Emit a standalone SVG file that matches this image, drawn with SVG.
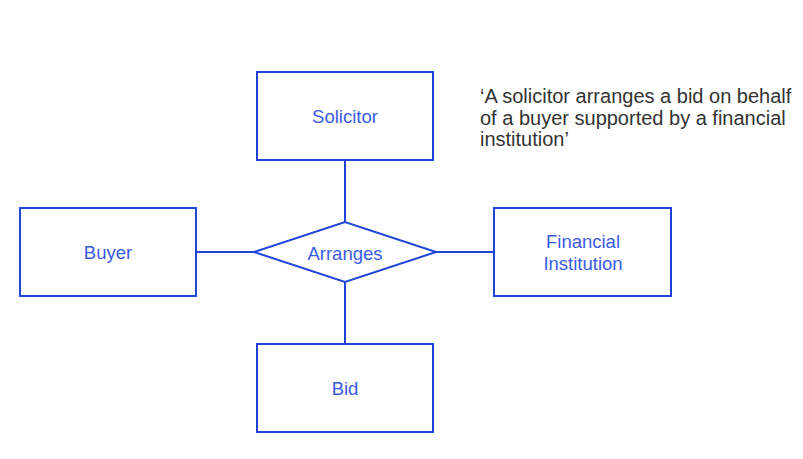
<svg xmlns="http://www.w3.org/2000/svg" width="803" height="459" viewBox="0 0 803 459">
<style>
.shape{fill:#ffffff;stroke:#1f45d6;stroke-width:2}
.conn{stroke:#1f45d6;stroke-width:2;fill:none}
.lbl{font-family:"Liberation Sans",Arial,sans-serif;font-size:18.5px;fill:#3a5be6;text-anchor:middle}
.note{font-family:"Liberation Sans",Arial,sans-serif;font-size:20px;fill:#333333}
</style>
<rect width="803" height="459" fill="#ffffff"/>
<g id="connectors">
<line class="conn" x1="345" y1="160" x2="345" y2="222"/>
<line class="conn" x1="345" y1="282" x2="345" y2="344"/>
<line class="conn" x1="196" y1="252" x2="254" y2="252"/>
<line class="conn" x1="436" y1="252" x2="494" y2="252"/>
</g>
<g id="solicitor">
<rect class="shape" x="257" y="72" width="176" height="88"/>
<text class="lbl" x="345" y="123">Solicitor</text>
</g>
<g id="buyer">
<rect class="shape" x="20" y="208" width="176" height="88"/>
<text class="lbl" x="108" y="259">Buyer</text>
</g>
<g id="financial">
<rect class="shape" x="494" y="208" width="177" height="88"/>
<text class="lbl" x="583" y="248">Financial</text>
<text class="lbl" x="583" y="270">Institution</text>
</g>
<g id="bid">
<rect class="shape" x="257" y="344" width="176" height="88"/>
<text class="lbl" x="345" y="395">Bid</text>
</g>
<g id="arranges">
<polygon class="shape" points="254,252 345,222 436,252 345,282"/>
<text class="lbl" x="345" y="260">Arranges</text>
</g>
<g id="note">
<text class="note" x="480" y="103">‘A solicitor arranges a bid on behalf</text>
<text class="note" x="480" y="125">of a buyer supported by a financial</text>
<text class="note" x="480" y="146">institution’</text>
</g>
</svg>
